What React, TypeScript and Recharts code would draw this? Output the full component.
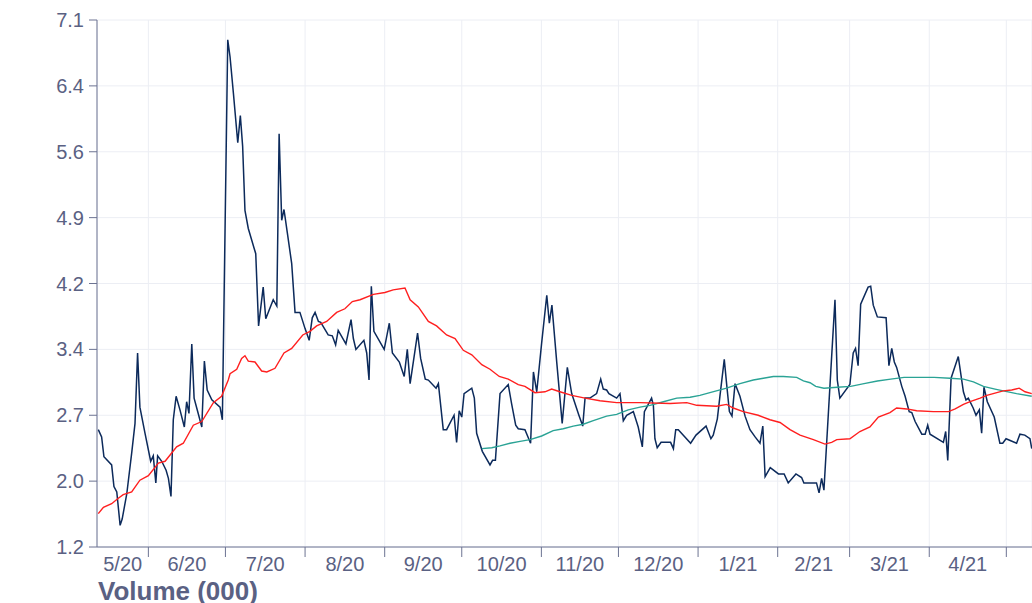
import React from "react";
import { LineChart, Line, XAxis, YAxis, CartesianGrid } from "recharts";

// Day offsets are counted from 2020-05-12 (left edge of the chart).
const START_DATE = "2020-05-12";
const X_DOMAIN: [number, number] = [0, 364];

const monthStarts = [
  "2020-06-01", "2020-07-01", "2020-08-01", "2020-09-01", "2020-10-01", "2020-11-01",
  "2020-12-01", "2021-01-01", "2021-02-01", "2021-03-01", "2021-04-01", "2021-05-01",
];
const monthLabels = ["5/20", "6/20", "7/20", "8/20", "9/20", "10/20", "11/20", "12/20", "1/21", "2/21", "3/21", "4/21"];

const Y_MIN = 1.24;
const Y_STEP = 0.73;
const yTickLabels = ["1.2", "2.0", "2.7", "3.4", "4.2", "4.9", "5.6", "6.4", "7.1"];

// [day offset, price]
const price: [number, number][] = [
  [0.5, 2.54], [1.8, 2.46], [2.7, 2.24], [5.7, 2.15], [6.6, 1.91], [7.7, 1.85], [9.0, 1.48], [9.8, 1.55],
  [11.6, 1.83], [13.5, 2.28], [14.8, 2.61], [15.8, 3.39], [16.7, 2.79], [18.7, 2.5], [20.9, 2.19], [21.9, 2.25],
  [22.9, 1.95], [23.6, 2.25], [25.2, 2.19], [26.9, 2.09], [27.8, 2.0], [28.8, 1.8], [29.7, 2.65], [30.8, 2.91],
  [32.3, 2.76], [34.0, 2.57], [34.9, 2.85], [35.8, 2.72], [36.9, 3.49], [37.8, 2.89], [39.4, 2.72], [40.8, 2.57],
  [41.8, 3.3], [42.9, 2.98], [44.7, 2.87], [47.9, 2.79], [48.8, 2.65], [50.9, 6.86], [51.8, 6.67], [53.1, 6.27],
  [54.8, 5.72], [55.8, 6.02], [56.7, 5.68], [57.6, 4.97], [58.9, 4.77], [61.8, 4.49], [62.9, 3.69], [64.7, 4.12],
  [65.7, 3.77], [68.6, 3.98], [70.0, 3.91], [70.9, 5.82], [71.9, 4.86], [72.8, 4.98], [74.1, 4.72], [75.8, 4.38],
  [77.1, 3.84], [79.0, 3.84], [81.0, 3.66], [82.6, 3.53], [83.8, 3.78], [84.9, 3.84], [86.2, 3.74], [87.1, 3.73],
  [90.0, 3.59], [91.6, 3.58], [92.9, 3.48], [93.9, 3.64], [96.9, 3.49], [98.9, 3.76], [99.8, 3.55], [100.8, 3.43],
  [103.9, 3.53], [105.0, 3.39], [105.9, 3.09], [106.8, 4.13], [107.8, 3.63], [111.8, 3.43], [113.8, 3.72], [115.0, 3.39],
  [117.7, 3.29], [119.6, 3.13], [120.8, 3.43], [121.9, 3.05], [124.8, 3.61], [126.0, 3.33], [127.8, 3.1], [129.0, 3.09],
  [132.0, 3.0], [132.9, 3.05], [134.8, 2.54], [136.1, 2.54], [139.0, 2.7], [140.0, 2.4], [141.0, 2.75], [142.0, 2.68],
  [142.9, 2.94], [145.9, 3.0], [146.9, 2.89], [147.8, 2.5], [150.0, 2.3], [153.0, 2.15], [154.0, 2.2], [155.1, 2.2],
  [156.9, 2.94], [160.1, 3.04], [161.4, 2.83], [163.0, 2.59], [164.0, 2.55], [166.6, 2.54], [168.8, 2.39], [169.9, 3.18],
  [171.2, 2.96], [173.1, 3.5], [175.1, 4.03], [176.1, 3.72], [177.1, 3.92], [179.0, 3.28], [181.1, 2.61], [183.1, 3.23],
  [184.8, 2.94], [187.6, 2.7], [189.1, 2.58], [190.0, 2.89], [191.9, 2.89], [194.5, 2.94], [196.1, 3.1], [197.1, 2.99],
  [198.4, 2.98], [199.3, 2.94], [202.3, 2.89], [203.6, 2.94], [204.9, 2.64], [206.2, 2.7], [208.8, 2.74], [210.7, 2.57],
  [212.3, 2.35], [213.1, 2.74], [215.9, 2.89], [216.6, 2.81], [217.2, 2.44], [218.1, 2.34], [219.6, 2.4], [223.3, 2.4],
  [224.4, 2.33], [225.3, 2.54], [226.3, 2.54], [231.1, 2.39], [233.2, 2.48], [237.1, 2.58], [239.0, 2.44], [239.9, 2.48],
  [241.5, 2.66], [242.5, 2.91], [244.2, 3.32], [245.1, 3.05], [246.2, 2.74], [247.2, 2.69], [248.4, 3.05], [250.3, 2.91],
  [252.3, 2.69], [254.2, 2.54], [256.2, 2.46], [258.1, 2.39], [259.2, 2.58], [260.1, 2.02], [262.1, 2.12], [265.3, 2.05],
  [267.5, 2.05], [269.1, 1.95], [272.1, 2.05], [274.3, 2.01], [275.2, 1.95], [280.1, 1.95], [281.1, 1.84], [282.1, 2.0],
  [283.0, 1.87], [286.0, 3.35], [287.3, 3.98], [288.2, 3.09], [289.2, 2.89], [293.1, 3.04], [294.4, 3.39], [295.3, 3.44],
  [296.3, 3.25], [297.3, 3.93], [300.2, 4.12], [301.2, 4.13], [302.2, 3.92], [303.8, 3.79], [307.2, 3.78], [308.3, 3.25],
  [309.4, 3.44], [310.4, 3.29], [311.3, 3.23], [313.3, 3.02], [314.6, 2.91], [316.2, 2.74], [317.2, 2.73], [318.5, 2.63],
  [321.1, 2.49], [322.4, 2.49], [323.4, 2.59], [324.3, 2.49], [329.5, 2.4], [330.4, 2.52], [331.2, 2.2], [332.5, 3.11],
  [335.3, 3.35], [337.3, 2.96], [338.3, 2.87], [339.2, 2.89], [341.1, 2.78], [342.2, 2.7], [343.5, 2.76], [344.4, 2.5],
  [345.3, 3.01], [346.6, 2.85], [349.3, 2.68], [351.5, 2.39], [352.6, 2.39], [353.9, 2.44], [358.0, 2.39], [359.3, 2.49],
  [361.2, 2.48], [363.2, 2.44], [363.9, 2.33],
];

// [day offset, short moving average]
const maShort: [number, number][] = [
  [0.5, 1.61], [2.5, 1.68], [5.7, 1.72], [8.3, 1.78], [10.2, 1.82], [13.5, 1.85], [16.7, 1.98], [20.0, 2.03],
  [23.9, 2.17], [26.5, 2.19], [31.0, 2.35], [33.6, 2.39], [37.5, 2.59], [40.8, 2.63], [45.3, 2.84], [48.5, 2.91],
  [51.1, 3.09], [51.8, 3.16], [54.4, 3.21], [56.3, 3.33], [57.6, 3.36], [58.9, 3.3], [61.5, 3.29], [64.1, 3.19],
  [66.1, 3.18], [69.3, 3.22], [72.8, 3.39], [75.8, 3.44], [80.1, 3.59], [82.9, 3.63], [85.5, 3.69], [89.4, 3.74],
  [93.3, 3.84], [96.5, 3.88], [99.4, 3.96], [102.4, 3.98], [107.6, 4.04], [112.1, 4.06], [115.3, 4.09], [119.9, 4.11],
  [121.9, 3.98], [125.1, 3.9], [129.0, 3.74], [132.2, 3.69], [136.1, 3.59], [139.4, 3.55], [142.6, 3.42], [145.9, 3.37],
  [149.8, 3.26], [153.0, 3.21], [156.6, 3.13], [160.1, 3.1], [164.0, 3.04], [166.6, 3.02], [170.5, 2.95], [174.4, 2.96],
  [177.0, 2.99], [180.2, 2.96], [184.8, 2.92], [190.0, 2.89], [195.8, 2.86], [202.3, 2.84], [211.4, 2.84], [223.1, 2.83],
  [229.6, 2.84], [233.5, 2.81], [241.2, 2.8], [245.1, 2.82], [247.7, 2.78], [251.6, 2.74], [257.4, 2.7], [262.0, 2.65],
  [265.9, 2.62], [269.8, 2.54], [273.7, 2.48], [278.9, 2.43], [283.4, 2.38], [286.0, 2.4], [288.0, 2.43], [293.1, 2.44],
  [297.0, 2.52], [300.9, 2.57], [304.2, 2.68], [308.7, 2.73], [311.3, 2.78], [315.2, 2.77], [319.1, 2.75], [325.6, 2.74],
  [331.5, 2.74], [334.1, 2.77], [337.3, 2.82], [339.9, 2.85], [343.8, 2.89], [346.4, 2.92], [350.3, 2.95], [352.8, 2.97],
  [356.1, 2.98], [359.0, 3.0], [361.3, 2.96], [363.9, 2.94],
];

// [day offset, long moving average]
const maLong: [number, number][] = [
  [149.8, 2.33], [153.7, 2.34], [156.9, 2.36], [160.8, 2.39], [164.7, 2.41], [168.6, 2.43], [173.1, 2.47], [177.6, 2.53],
  [181.5, 2.55], [185.4, 2.58], [189.3, 2.6], [193.2, 2.64], [198.4, 2.69], [202.3, 2.71], [206.8, 2.76], [211.4, 2.79],
  [215.3, 2.81], [220.5, 2.85], [225.7, 2.89], [230.9, 2.9], [234.7, 2.92], [238.6, 2.95], [245.1, 3.0], [250.3, 3.05],
  [255.5, 3.09], [259.4, 3.11], [263.3, 3.13], [267.2, 3.13], [272.4, 3.12], [275.0, 3.08], [277.6, 3.06], [279.8, 3.02],
  [283.0, 3.0], [288.2, 3.01], [293.4, 3.02], [298.6, 3.05], [303.8, 3.08], [309.0, 3.1], [314.2, 3.12], [319.4, 3.12],
  [325.9, 3.12], [332.1, 3.11], [337.3, 3.1], [341.2, 3.07], [345.1, 3.02], [349.6, 2.99], [352.8, 2.97], [358.0, 2.94],
  [363.9, 2.91],
];

const AXIS = "#6c7392";
const TEXT = "#5a6183";
const GRID = "#eceef4";
const NAVY = "#0c2a5b";
const RED = "#ff1f1f";
const TEAL = "#2aa395";

const DAY_MS = 86400000;
const startMs = Date.parse(START_DATE);
const monthStartDays = monthStarts.map((d) => Math.round((Date.parse(d) - startMs) / DAY_MS));
const edges = [X_DOMAIN[0], ...monthStartDays];
const labelDays = monthLabels.map((_, i) => (edges[i] + edges[i + 1]) / 2);
const xTicks = [...monthStartDays, ...labelDays].sort((a, b) => a - b);
const yTicks = yTickLabels.map((_, i) => +(Y_MIN + i * Y_STEP).toFixed(2));

const toRows = (arr: [number, number][]) => arr.map(([day, v]) => ({ day, v }));
const priceData = toRows(price);
const shortData = toRows(maShort);
const longData = toRows(maLong);

const XTick = (props: any) => {
  const { x, y, payload } = props;
  const idx = labelDays.indexOf(payload.value);
  if (idx >= 0) {
    return (
      <text x={x} y={y + 24} textAnchor="middle" fill={TEXT} fontSize={20}>
        {monthLabels[idx]}
      </text>
    );
  }
  return <line x1={x} x2={x} y1={y} y2={y + 10} stroke={AXIS} strokeWidth={1} />;
};

export default function App() {
  return (
    <div
      style={{
        position: "fixed",
        left: 0,
        top: 0,
        width: 1032,
        height: 603,
        overflow: "hidden",
        background: "#fff",
        fontFamily: '"Liberation Sans", Arial, sans-serif',
      }}
    >
      <div style={{ position: "absolute", left: 8, top: 8 }}>
        <LineChart width={1024} height={570} margin={{ top: 12, right: 0, bottom: 0, left: 0 }}>
          <CartesianGrid stroke={GRID} xAxisId="grid" />
          <XAxis
            xAxisId="grid"
            type="number"
            dataKey="day"
            domain={X_DOMAIN}
            ticks={monthStartDays}
            hide
            allowDataOverflow
          />
          <XAxis
            type="number"
            dataKey="day"
            domain={X_DOMAIN}
            ticks={xTicks}
            interval={0}
            tickLine={false}
            tickSize={0}
            tickMargin={0}
            tick={<XTick />}
            stroke={AXIS}
            height={31}
            allowDataOverflow
          />
          <YAxis
            type="number"
            domain={[yTicks[0], yTicks[yTicks.length - 1]]}
            ticks={yTicks}
            interval={0}
            tickFormatter={(_v: number, i: number) => yTickLabels[i]}
            width={89}
            stroke={AXIS}
            tick={{ fill: TEXT, fontSize: 20 }}
            tickSize={8}
            tickMargin={5}
            allowDataOverflow
          />
          <Line data={priceData} dataKey="v" type="linear" stroke={NAVY} strokeWidth={1.5} dot={false} isAnimationActive={false} />
          <Line data={longData} dataKey="v" type="linear" stroke={TEAL} strokeWidth={1.4} dot={false} isAnimationActive={false} />
          <Line data={shortData} dataKey="v" type="linear" stroke={RED} strokeWidth={1.4} dot={false} isAnimationActive={false} />
        </LineChart>
      </div>
      <div
        style={{
          position: "absolute",
          left: 98,
          top: 578,
          fontSize: 26,
          lineHeight: "26px",
          fontWeight: 700,
          color: TEXT,
          whiteSpace: "nowrap",
        }}
      >
        Volume (000)
      </div>
    </div>
  );
}
